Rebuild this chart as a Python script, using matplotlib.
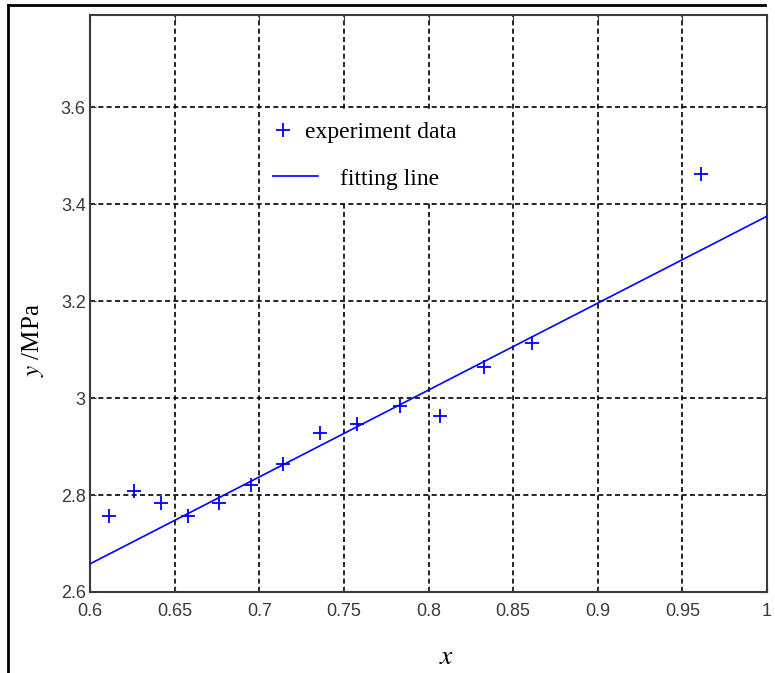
import matplotlib
matplotlib.use("Agg")
import matplotlib.pyplot as plt
from matplotlib.lines import Line2D
from matplotlib.patches import Rectangle
from matplotlib.ticker import FormatStrFormatter

# experiment points
x_exp = [0.611, 0.626, 0.642, 0.658, 0.676, 0.695, 0.714,
         0.736, 0.758, 0.783, 0.807, 0.833, 0.861, 0.961]
y_exp = [2.757, 2.809, 2.783, 2.757, 2.783, 2.821, 2.864,
         2.928, 2.946, 2.984, 2.963, 3.065, 3.114, 3.462]

# fitted straight line (end points)
fit_x = [0.6, 1.0]
fit_y = [2.658, 3.375]

xticks = [0.6, 0.65, 0.7, 0.75, 0.8, 0.85, 0.9, 0.95, 1.0]
yticks = [2.6, 2.8, 3.0, 3.2, 3.4, 3.6]

plt.rcParams['mathtext.fontset'] = 'stix'

W, H = 775, 673
fig = plt.figure(figsize=(W / 100, H / 100), dpi=100)
ax = fig.add_axes([90 / W, (H - 592) / H, 677 / W, 577 / H])

ax.plot(fit_x, fit_y, color='#0000ff', lw=1.2, zorder=4)
ax.plot(x_exp, y_exp, ls='none', marker='+', ms=10, mew=1.3,
        color='#0000ff', zorder=4)

ax.set_xlim(0.6, 1.0)
ax.set_ylim(2.6, 3.79)
ax.set_xticks(xticks)
ax.set_yticks(yticks)
ax.xaxis.set_major_formatter(FormatStrFormatter('%g'))
ax.yaxis.set_major_formatter(FormatStrFormatter('%g'))

ax.grid(True, color='black', ls=(0, (3, 2)), lw=1.2)
for s in ax.spines.values():
    s.set_color('#3a3a3a')
    s.set_linewidth(1.5)
ax.tick_params(direction='in', length=4, color='#3a3a3a', top=True, right=True,
               labelsize=13, labelcolor='#3a3a3a')
ax.tick_params(axis='x', pad=8)
ax.tick_params(axis='y', pad=3)
for lab in ax.get_xticklabels() + ax.get_yticklabels():
    lab.set_family('Liberation Sans')

ax.set_xlabel(r'$\mathit{x}$', fontsize=20, family='Liberation Serif')
ax.xaxis.set_label_coords(0.527, -0.113)
ax.xaxis.label.set_va('center')
ax.set_ylabel(r'$\mathit{y}$ /MPa', fontsize=18, family='Liberation Serif')
ax.yaxis.set_label_coords(-0.084, 0.437)
ax.yaxis.label.set_va('center')

# white area behind the legend, hides the grid there
ax.add_patch(Rectangle((0.254, 0.674), 0.336, 0.161, transform=ax.transAxes,
                       facecolor='white', edgecolor='none', zorder=3))

fp = {'family': 'Liberation Serif', 'size': 17}
h1 = Line2D([], [], ls='none', marker='+', ms=10, mew=1.3, color='#0000ff')
h2 = Line2D([], [], color='#0000ff', lw=1.2)
leg1 = ax.legend([h1], ['experiment data'], loc='center left',
                 bbox_to_anchor=(0.271, 0.797), frameon=False, prop=fp,
                 handlelength=0.8, handletextpad=0.53, borderpad=0,
                 borderaxespad=0)
leg1.set_zorder(5)
ax.add_artist(leg1)
leg2 = ax.legend([h2], ['fitting line'], loc='center left',
                 bbox_to_anchor=(0.270, 0.716), frameon=False, prop=fp,
                 handlelength=1.9, handletextpad=0.93, borderpad=0,
                 borderaxespad=0)
leg2.set_zorder(5)

# outer frame of the picture (left and top edges)
fig.add_artist(Line2D([8 / W, 8 / W], [0, 1 - 5 / H], color='black', lw=2,
                      transform=fig.transFigure))
fig.add_artist(Line2D([8 / W, 765 / W], [1 - 5 / H, 1 - 5 / H], color='black',
                      lw=2, transform=fig.transFigure))

fig.savefig('out.png', dpi=100)
